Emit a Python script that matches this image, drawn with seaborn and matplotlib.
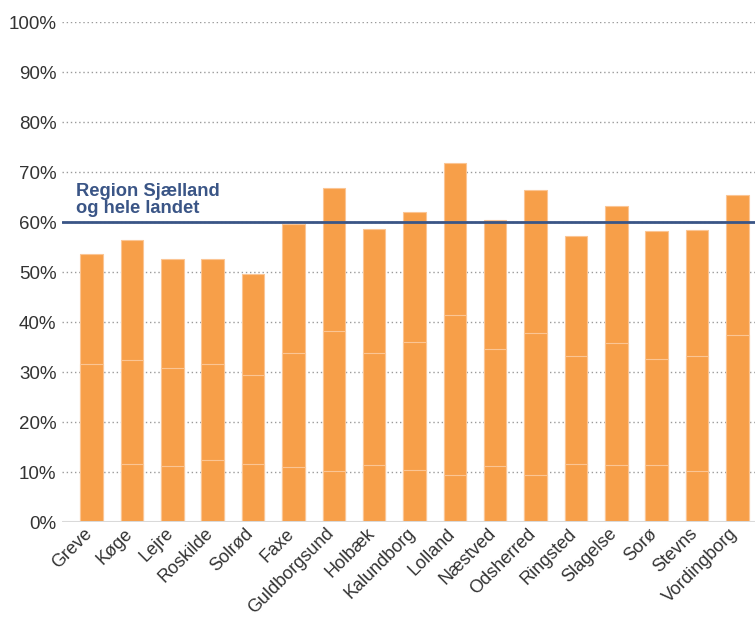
import matplotlib
matplotlib.use("Agg")
import matplotlib.pyplot as plt
import matplotlib.transforms as mtransforms
import seaborn as sns
import numpy as np
import pandas as pd

kommuner = ["Greve", "Køge", "Lejre", "Roskilde", "Solrød", "Faxe", "Guldborgsund",
            "Holbæk", "Kalundborg", "Lolland", "Næstved", "Odsherred", "Ringsted",
            "Slagelse", "Sorø", "Stevns", "Vordingborg"]
seg_bund = [0.0, 11.7, 11.3, 12.5, 11.7, 11.0, 10.2, 11.4, 10.5, 9.4, 11.2, 9.4, 11.7, 11.4, 11.4, 10.2, 0.0]
seg_midt = [31.7, 20.8, 19.6, 19.2, 17.8, 22.8, 28.1, 22.4, 25.6, 32.1, 23.5, 28.4, 21.5, 24.5, 21.3, 23.1, 37.4]
seg_top = [22.0, 24.0, 21.7, 21.0, 20.1, 25.8, 28.6, 24.9, 26.0, 30.4, 25.8, 28.7, 24.1, 27.3, 25.6, 25.2, 28.0]
reference = 60.0
ref_label = "Region Sjælland\nog hele landet"
yticks = [0, 10, 20, 30, 40, 50, 60, 70, 80, 90, 100]
ytick_labels = [f"{t}%" for t in yticks]

sns.set_theme(style="white")
plt.rcParams['font.family'] = ['Liberation Sans', 'DejaVu Sans']

df = pd.DataFrame({"kommune": kommuner, "bund": seg_bund, "midt": seg_midt, "top": seg_top})
df["c1"] = df["bund"]
df["c2"] = df["bund"] + df["midt"]
df["c3"] = df["c2"] + df["top"]

fig = plt.figure(figsize=(7.55, 6.17), dpi=100)
ax = fig.add_axes([0.082, 0.1535, 0.918, 0.8104])

orange = "#F79F49"
sep = "#FBC594"
for col in ["c3", "c2", "c1"]:
    sns.barplot(data=df, x="kommune", y=col, order=kommuner, color=orange, saturation=1,
                width=0.56, edgecolor=sep, linewidth=0.8, ax=ax, zorder=2)

ax.set_xlim(-0.74, 16.44)
ax.set_ylim(0, 100)
ax.set_yticks(yticks)
ax.set_yticklabels(ytick_labels)
ax.set_xlabel("")
ax.set_ylabel("")
for y in yticks[1:]:
    ax.axhline(y, color="#9a9a9a", linestyle=(0, (1, 2)), linewidth=1.0, zorder=1)
ax.axhline(0, color="#d9d9d9", linewidth=2.2, zorder=3)
ax.axhline(reference, color="#3A5586", linewidth=2.0, zorder=4)
ax.text(-0.4, reference + 1.0, ref_label, color="#3A5586", fontsize=13.2, fontweight="bold",
        ha="left", va="bottom", linespacing=1.0, zorder=5)

for s in ax.spines.values():
    s.set_visible(False)
ax.tick_params(axis="y", length=0, labelsize=13.5, labelcolor="#333333", pad=4)
ax.tick_params(axis="x", length=0, labelsize=13, labelcolor="#333333", pad=2)
offset = mtransforms.ScaledTranslation(-8 / 100, 0, fig.dpi_scale_trans)
for lab in ax.get_xticklabels():
    lab.set_rotation(45)
    lab.set_ha("right")
    lab.set_rotation_mode("anchor")
    lab.set_transform(lab.get_transform() + offset)

fig.savefig("out.png", dpi=100)
